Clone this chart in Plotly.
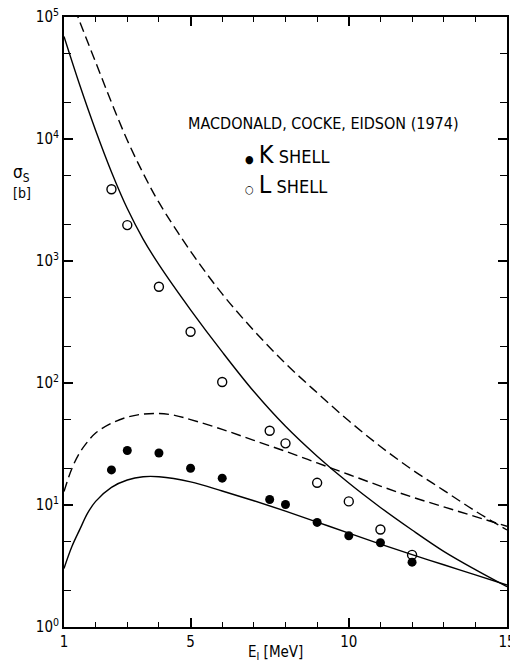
import plotly.graph_objects as go

# ---- data ----
exp_energy = [2.5, 3, 4, 5, 6, 7.5, 8, 9, 10, 11, 12]
k_shell = [19.4, 28.0, 26.7, 20.0, 16.6, 11.1, 10.1, 7.2, 5.6, 4.9, 3.4]
l_shell = [3870, 1970, 615, 263, 102, 40.6, 32, 15.2, 10.7, 6.3, 3.9]

# theory curves (log10 of cross section)
k_solid_x = [1.0, 1.25, 1.5, 1.75, 2.0, 2.5, 3.0, 3.5, 4.0, 5.0, 6.0, 7.0, 8.0, 9.0, 10.0, 11.0, 12.0, 13.0, 14.0, 15.0]
k_solid_log = [0.48, 0.66, 0.80, 0.935, 1.03, 1.145, 1.205, 1.232, 1.232, 1.19, 1.115, 1.035, 0.95, 0.86, 0.77, 0.68, 0.593, 0.51, 0.427, 0.344]

k_dash_x = [1.0, 1.25, 1.5, 1.75, 2.0, 2.5, 3.0, 3.5, 4.0, 4.5, 5.0, 6.0, 7.0, 8.0, 9.0, 10.0, 11.0, 12.0, 13.0, 14.0, 15.0]
k_dash_log = [1.11, 1.30, 1.43, 1.52, 1.59, 1.67, 1.72, 1.745, 1.75, 1.735, 1.70, 1.62, 1.53, 1.44, 1.345, 1.25, 1.155, 1.065, 0.985, 0.905, 0.825]

l_solid_x = [1.0, 1.5, 2.0, 2.5, 3.0, 3.5, 4.0, 5.0, 6.0, 7.0, 8.0, 9.0, 10.0, 11.0, 12.0, 13.0, 14.0, 15.0]
l_solid_log = [4.84, 4.44, 4.07, 3.73, 3.43, 3.18, 2.97, 2.60, 2.255, 1.93, 1.645, 1.40, 1.18, 0.98, 0.795, 0.62, 0.47, 0.33]

l_dash_x = [1.0, 1.5, 2.0, 2.5, 3.0, 3.5, 4.0, 5.0, 6.0, 7.0, 8.0, 9.0, 10.0, 11.0, 12.0, 13.0, 14.0, 15.0]
l_dash_log = [5.30, 4.96, 4.63, 4.30, 3.99, 3.72, 3.48, 3.08, 2.73, 2.43, 2.16, 1.92, 1.69, 1.48, 1.29, 1.12, 0.95, 0.795]

x_tick_vals = [1, 5, 10, 15]
x_tick_text = ["1", "5", "10", "15"]
y_tick_vals = [1, 10, 100, 1000, 10000, 100000]
y_tick_text = ["10<sup>0</sup>", "10<sup>1</sup>", "10<sup>2</sup>", "10<sup>3</sup>", "10<sup>4</sup>", "10<sup>5</sup>"]

FONT = "Liberation Sans Narrow, DejaVu Sans Condensed, DejaVu Sans, sans-serif"

fig = go.Figure()

def curve(xs, logs, dash):
    fig.add_trace(go.Scatter(
        x=xs, y=[10 ** v for v in logs], mode="lines",
        line=dict(color="black", width=1.4, dash=dash, shape="spline", smoothing=1.0),
        showlegend=False, hoverinfo="skip"))

curve(l_dash_x, l_dash_log, "10px,5px")
curve(l_solid_x, l_solid_log, "solid")
curve(k_dash_x, k_dash_log, "10px,5px")
curve(k_solid_x, k_solid_log, "solid")

fig.add_trace(go.Scatter(x=exp_energy, y=k_shell, mode="markers",
                         marker=dict(symbol="circle", size=9, color="black"),
                         showlegend=False))
fig.add_trace(go.Scatter(x=exp_energy, y=l_shell, mode="markers",
                         marker=dict(symbol="circle-open", size=9, color="black",
                                     line=dict(width=1.4, color="black")),
                         showlegend=False))

minor_y = []
for d in range(5):
    for m in (2, 5):
        minor_y.append(m * 10 ** d)

fig.update_xaxes(
    range=[1, 15], showline=True, linecolor="black", linewidth=2, mirror="ticks",
    ticks="inside", ticklen=9, tickwidth=1.5, tickcolor="black",
    tickmode="array", tickvals=x_tick_vals, ticktext=x_tick_text,
    ticklabeloverflow="allow", automargin=False,
    minor=dict(tickmode="linear", tick0=1, dtick=1, ticks="inside", ticklen=5,
               tickwidth=1.2, tickcolor="black"),
    showgrid=False, zeroline=False,
    tickfont=dict(family=FONT, size=15, color="black"),
)
fig.update_yaxes(
    type="log", range=[0, 5], showline=True, linecolor="black", linewidth=2, mirror="ticks",
    ticks="inside", ticklen=9, tickwidth=1.5, tickcolor="black",
    tickmode="array", tickvals=y_tick_vals, ticktext=y_tick_text,
    ticklabeloverflow="allow", automargin=False,
    minor=dict(tickmode="array", tickvals=minor_y, ticks="inside", ticklen=7,
               tickwidth=1.2, tickcolor="black"),
    showgrid=False, zeroline=False,
    tickfont=dict(family=FONT, size=15, color="black"),
)

annotations = [
    dict(text="MACDONALD, COCKE, EIDSON (1974)", x=0.585, y=0.826, xanchor="center", yanchor="middle",
         font=dict(family=FONT, size=16, color="black")),
    dict(text="<span style='font-size:11px'>●</span> <span style='font-size:25px'>K</span> SHELL",
         x=0.405, y=0.775, xanchor="left", yanchor="middle",
         font=dict(family=FONT, size=18, color="black")),
    dict(text="<span style='font-size:11px'>○</span> <span style='font-size:25px'>L</span> SHELL",
         x=0.405, y=0.725, xanchor="left", yanchor="middle",
         font=dict(family=FONT, size=18, color="black")),
    dict(text="σ<sub>S</sub>", x=-0.095, y=0.744, xanchor="center", yanchor="middle",
         font=dict(family=FONT, size=17, color="black")),
    dict(text="[b]", x=-0.095, y=0.711, xanchor="center", yanchor="middle",
         font=dict(family=FONT, size=14, color="black")),
    dict(text="E<sub>I</sub> [MeV]", x=0.478, y=-0.0607, xanchor="center", yanchor="bottom",
         font=dict(family=FONT, size=15, color="black")),
]
for a in annotations:
    a.update(xref="paper", yref="paper", showarrow=False)

fig.update_layout(
    width=510, height=664, margin=dict(l=64, r=3, t=17, b=37, autoexpand=False),
    paper_bgcolor="white", plot_bgcolor="white",
    annotations=annotations, showlegend=False,
)

fig.write_html("out.html")
